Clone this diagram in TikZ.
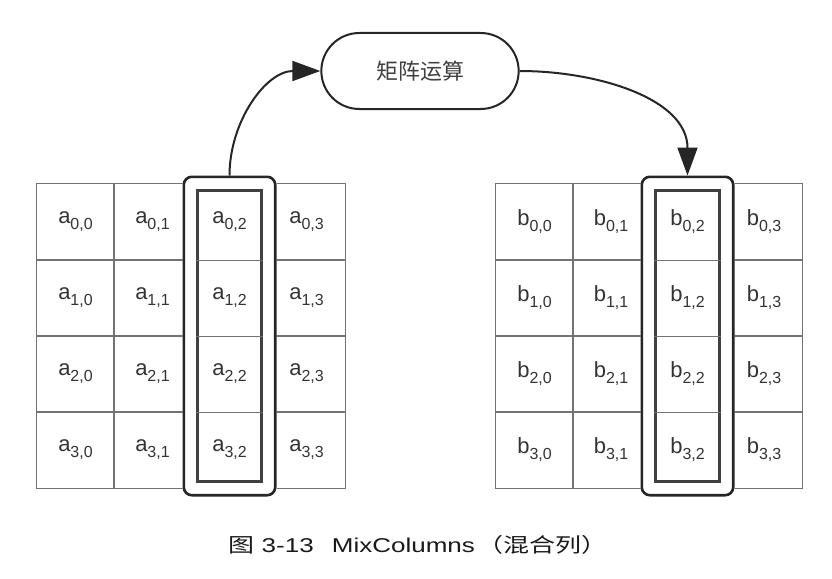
\documentclass[tikz,border=0pt]{standalone}
\usepackage{fontspec}
\setmainfont{Liberation Sans}
\newfontfamily\cjk{Noto Sans CJK SC}
\usetikzlibrary{positioning,fit,shapes.misc,arrows.meta,backgrounds}
\newcommand{\idx}[2]{#1\raisebox{-6pt}{\fontsize{16}{18}\selectfont #2}}

\begin{document}
\begin{tikzpicture}[x=1pt, y=-1pt]
\tikzstyle{cell}=[minimum width=77pt, minimum height=76pt, inner sep=0pt,
                  text=black!80, font=\fontsize{22}{26}\selectfont]
\tikzstyle{gridline}=[draw=black!55, line width=0.7pt]
\tikzstyle{outer}=[draw=black!85, line width=2.6pt, rounded corners=8pt, inner sep=7pt]
\tikzstyle{inner}=[draw=black!75, line width=3pt, inner sep=-7pt]
\tikzstyle{op}=[rounded rectangle, draw=black!85, line width=2pt, fill=white,
                minimum width=204pt, minimum height=76pt, text=black!75,
                font=\cjk\fontsize{22}{26}\selectfont]
\tikzstyle{flow}=[line width=2pt, draw=black!85, -{Triangle[length=28pt,width=20pt]}]
\useasboundingbox (0,0) rectangle (832,578);
\foreach \r in {0,...,3}{
  \foreach \c in {0,...,3}{
    \node[cell] (a\r\c) at ({75.5+77*\c},{222+76*\r}) {\idx{a}{\r,\c}};
    \node[cell] (b\r\c) at ({534.5+76.5*\c},{222+76*\r}) {\idx{b}{\r,\c}};
  }
}
\node[outer, fit=(a02)(a32)] (acol) {};
\node[outer, fit=(b02)(b32)] (bcol) {};
\node[inner, fit=(a02)(a32)] (ain) {};
\node[inner, fit=(b02)(b32)] (bin) {};
\foreach \r in {0,1,2}{
  \draw[gridline] (ain.west |- a\r2.south) -- (ain.east |- a\r2.south);
  \draw[gridline] (bin.west |- b\r2.south) -- (bin.east |- b\r2.south);
}
\node[op] (matop) at (420,71) {矩阵运算};
\draw[flow] (acol.north) to[out=90, in=180] (matop.west);
\draw[flow] (matop.east) to[out=0, in=90] (bcol.north);
\node[text=black!90] (cap) at (418,545) {\scalebox{1.3}[1]{\fontsize{20}{24}\selectfont
  {\cjk 图}~3-13\hspace{14pt}MixColumns\hspace{2pt}{\cjk （混合列）}}};
\begin{scope}[on background layer]
\foreach \r in {0,...,3}{
  \foreach \c in {0,...,3}{
    \draw[gridline] (a\r\c.north west) rectangle (a\r\c.south east);
    \draw[gridline] (b\r\c.north west) rectangle (b\r\c.south east);
  }
}
\fill[white, rounded corners=8pt] (acol.north west) rectangle (acol.south east);
\fill[white, rounded corners=8pt] (bcol.north west) rectangle (bcol.south east);
\end{scope}
\end{tikzpicture}
\end{document}
